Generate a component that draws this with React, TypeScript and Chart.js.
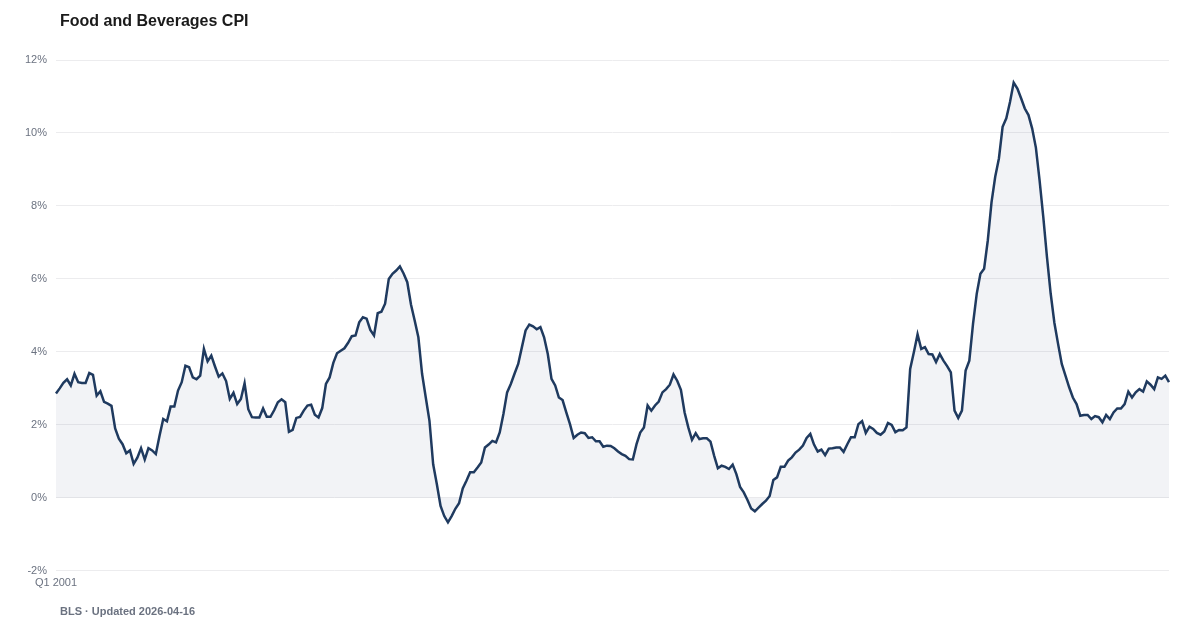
import React, { useEffect, useRef } from "react";
import { Chart, registerables } from "chart.js";

Chart.register(...registerables);

const TITLE = "Food and Beverages CPI";
const SOURCE = "BLS · Updated 2026-04-16";
const START_YEAR = 2001;

// Year-over-year % change, monthly, Jan 2001 onward
const cpi2001_2005: number[] = [
  2.86, 3.0, 3.15, 3.25, 3.08, 3.4, 3.17, 3.15, 3.15, 3.42, 3.37, 2.8,
  2.92, 2.63, 2.58, 2.52, 1.9, 1.62, 1.47, 1.22, 1.3, 0.93, 1.1, 1.36,
  1.05, 1.36, 1.3, 1.2, 1.7, 2.16, 2.1, 2.5, 2.5, 2.94, 3.17, 3.62,
  3.58, 3.3, 3.25, 3.35, 4.08, 3.74, 3.9, 3.6, 3.32, 3.41, 3.2, 2.71,
  2.88, 2.57, 2.71, 3.14, 2.43, 2.21, 2.2, 2.2, 2.45, 2.22, 2.22, 2.4,
];
const cpi2006_2010: number[] = [
  2.62, 2.7, 2.62, 1.81, 1.86, 2.19, 2.22, 2.39, 2.53, 2.55, 2.28, 2.2,
  2.46, 3.12, 3.3, 3.7, 3.96, 4.03, 4.1, 4.25, 4.43, 4.45, 4.81, 4.95,
  4.91, 4.6, 4.45, 5.06, 5.1, 5.32, 6.0, 6.14, 6.23, 6.34, 6.15, 5.91,
  5.3, 4.86, 4.4, 3.4, 2.75, 2.11, 0.92, 0.37, -0.22, -0.5, -0.67, -0.5,
  -0.3, -0.15, 0.26, 0.47, 0.7, 0.7, 0.83, 0.97, 1.38, 1.46, 1.56, 1.52,
];
const cpi2011_2015: number[] = [
  1.79, 2.3, 2.89, 3.12, 3.4, 3.67, 4.13, 4.59, 4.75, 4.7, 4.62, 4.68,
  4.4, 3.94, 3.26, 3.08, 2.75, 2.68, 2.34, 2.02, 1.64, 1.73, 1.79, 1.77,
  1.64, 1.66, 1.55, 1.55, 1.4, 1.43, 1.42, 1.36, 1.27, 1.2, 1.15, 1.06,
  1.05, 1.47, 1.79, 1.93, 2.53, 2.39, 2.53, 2.64, 2.89, 2.98, 3.1, 3.38,
  3.21, 2.96, 2.34, 1.93, 1.59, 1.77, 1.61, 1.63, 1.63, 1.54, 1.15, 0.81,
];
const cpi2016_2020: number[] = [
  0.88, 0.85, 0.79, 0.91, 0.65, 0.3, 0.15, -0.06, -0.29, -0.37, -0.27, -0.17,
  -0.08, 0.05, 0.49, 0.56, 0.85, 0.85, 1.02, 1.11, 1.24, 1.32, 1.43, 1.64,
  1.75, 1.46, 1.27, 1.32, 1.17, 1.35, 1.36, 1.38, 1.38, 1.26, 1.47, 1.66,
  1.66, 2.02, 2.1, 1.78, 1.95, 1.89, 1.78, 1.73, 1.82, 2.05, 2.0, 1.8,
  1.86, 1.85, 1.93, 3.53, 3.99, 4.48, 4.08, 4.13, 3.94, 3.93, 3.72, 3.94,
];
const cpi2021_2025: number[] = [
  3.76, 3.61, 3.44, 2.39, 2.19, 2.39, 3.49, 3.76, 4.77, 5.59, 6.14, 6.28,
  7.06, 8.1, 8.8, 9.3, 10.17, 10.4, 10.85, 11.38, 11.22, 10.95, 10.67, 10.49,
  10.12, 9.6, 8.7, 7.7, 6.6, 5.6, 4.8, 4.22, 3.67, 3.35, 3.03, 2.75,
  2.57, 2.25, 2.27, 2.27, 2.16, 2.24, 2.21, 2.07, 2.27, 2.16, 2.34, 2.45,
  2.45, 2.57, 2.91, 2.75, 2.89, 2.98, 2.91, 3.19, 3.1, 2.98, 3.3, 3.26,
];
const cpi2026: number[] = [3.35, 3.17];

const values: number[] = [
  ...cpi2001_2005,
  ...cpi2006_2010,
  ...cpi2011_2015,
  ...cpi2016_2020,
  ...cpi2021_2025,
  ...cpi2026,
];

const labels: string[] = values.map((_, i) => {
  const year = START_YEAR + Math.floor(i / 12);
  const q = Math.floor((i % 12) / 3) + 1;
  return `Q${q} ${year}`;
});

const yTicks: number[] = [-2, 0, 2, 4, 6, 8, 10, 12];

export default function App() {
  const ref = useRef<HTMLCanvasElement | null>(null);

  useEffect(() => {
    if (!ref.current) return;
    const chart = new Chart(ref.current, {
      type: "line",
      data: {
        labels,
        datasets: [
          {
            data: values,
            borderColor: "#1f3a5f",
            borderWidth: 2.5,
            backgroundColor: "rgba(31,58,95,0.06)",
            fill: "origin",
            pointRadius: 0,
            tension: 0,
          },
        ],
      },
      options: {
        animation: false,
        responsive: false,
        maintainAspectRatio: false,
        layout: { padding: { top: 60, right: 31, bottom: 34, left: 0 } },
        plugins: {
          legend: { display: false },
          tooltip: { enabled: false },
          title: { display: false },
        },
        scales: {
          x: {
            grid: { display: false, drawTicks: false },
            border: { display: false },
            ticks: {
              autoSkip: false,
              maxRotation: 0,
              minRotation: 0,
              padding: 6,
              color: "#6b7280",
              font: { family: "Arial, 'Liberation Sans', sans-serif", size: 11 },
              callback: (_v, i) => (i === 0 ? labels[0] : ""),
            },
          },
          y: {
            min: yTicks[0],
            max: yTicks[yTicks.length - 1],
            afterFit: (s: any) => {
              s.width = 56;
            },
            afterBuildTicks: (s: any) => {
              s.ticks = yTicks.map((v) => ({ value: v }));
            },
            grid: { color: "#ececee", drawTicks: false, lineWidth: 1 },
            border: { display: false },
            ticks: {
              padding: 9,
              color: "#6b7280",
              font: { family: "Arial, 'Liberation Sans', sans-serif", size: 11 },
              callback: (v) => `${v}%`,
            },
          },
        },
      },
    });
    return () => chart.destroy();
  }, []);

  return (
    <div
      style={{
        position: "fixed",
        left: 0,
        top: 0,
        width: 1200,
        height: 630,
        background: "#ffffff",
        fontFamily: "Arial, 'Liberation Sans', sans-serif",
      }}
    >
      <canvas
        ref={ref}
        width={1200}
        height={630}
        style={{ position: "absolute", left: 0, top: 0, width: 1200, height: 630 }}
      />
      <div
        style={{
          position: "absolute",
          left: 60,
          top: 10,
          fontSize: 16,
          fontWeight: 700,
          color: "#1a1a1a",
          lineHeight: "22px",
          whiteSpace: "nowrap",
        }}
      >
        {TITLE}
      </div>
      <div
        style={{
          position: "absolute",
          left: 60,
          top: 604,
          fontSize: 11,
          fontWeight: 700,
          color: "#6b7280",
          lineHeight: "14px",
          whiteSpace: "nowrap",
        }}
      >
        {SOURCE}
      </div>
    </div>
  );
}
